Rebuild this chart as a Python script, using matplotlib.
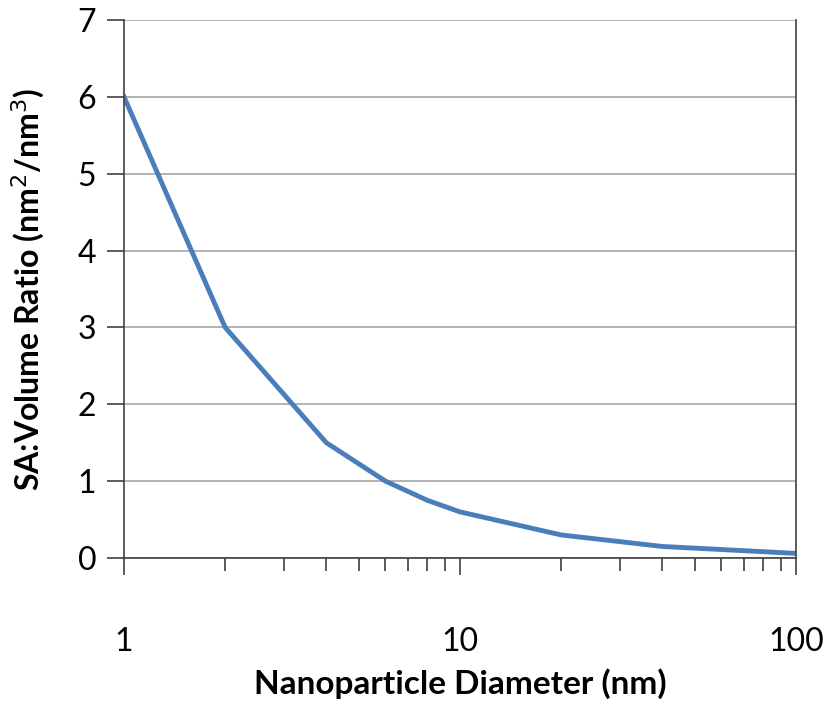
import matplotlib
matplotlib.use('Agg')
import matplotlib.pyplot as plt
from matplotlib.ticker import FixedLocator, NullFormatter, LogLocator

diameter = [1, 2, 4, 6, 8, 10, 20, 40, 100]
ratio    = [6.0, 3.0, 1.5, 1.0, 0.75, 0.6, 0.3, 0.15, 0.06]
x_ticks  = [1, 10, 100]
x_labels = ['1', '10', '100']
y_ticks  = [0, 1, 2, 3, 4, 5, 6, 7]

plt.rcParams['font.family'] = ['Lato', 'DejaVu Sans']

fig = plt.figure(figsize=(8.24, 7.01), dpi=100)
ax = fig.add_axes([0.1505, 0.204, 0.8155, 0.7675])

ax.plot(diameter, ratio, color='#4A7EBB', linewidth=3.5, solid_joinstyle='round')

ax.set_xscale('log')
ax.set_xlim(1, 100)
ax.set_ylim(0, 7)
ax.set_yticks(y_ticks)
ax.xaxis.set_major_locator(FixedLocator(x_ticks))
ax.set_xticklabels(x_labels)
ax.xaxis.set_minor_locator(LogLocator(base=10, subs=range(2, 10)))
ax.xaxis.set_minor_formatter(NullFormatter())

ax.grid(True, axis='y', color='#A6A6A6', linewidth=1.2)
ax.set_axisbelow(True)
ax.spines['top'].set_visible(False)
for s in ['left', 'bottom', 'right']:
    ax.spines[s].set_color('#404040')
    ax.spines[s].set_linewidth(1.2)

ax.tick_params(axis='x', which='major', direction='out', length=12, width=1.2,
               pad=38, labelsize=23, colors='#404040', labelcolor='black')
ax.tick_params(axis='x', which='minor', direction='out', length=9, width=1.2,
               colors='#404040')
ax.tick_params(axis='y', direction='out', length=12, width=1.2,
               pad=8, labelsize=23, colors='#404040', labelcolor='black')

ax.set_xlabel('Nanoparticle Diameter (nm)', fontsize=24, fontweight='bold')
ax.xaxis.set_label_coords(0.5, -0.205)
ax.set_ylabel('SA:Volume Ratio (nm$^2$/nm$^3$)', fontsize=23, fontweight='bold')
ax.yaxis.set_label_coords(-0.115, 0.5)

plt.savefig('out.png', dpi=100)
